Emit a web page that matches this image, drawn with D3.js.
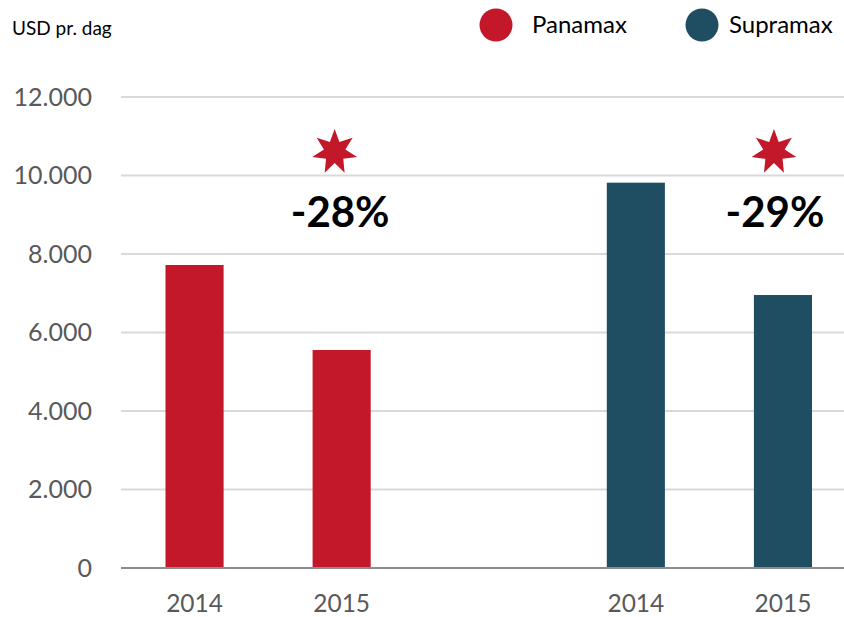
<!DOCTYPE html>
<html><head><meta charset="utf-8">
<script src="https://cdn.jsdelivr.net/npm/d3@7"></script>
<style>
html,body{margin:0;padding:0;background:#fff;}
svg{display:block;font-family:Lato, "Open Sans", sans-serif;}
</style></head>
<body>
<svg id="chart" width="844" height="617"></svg>
<script>
const years = ["2014", "2015"];
const seriesNames = ["Panamax", "Supramax"];
const panamax = [7720, 5554];
const supramax = [9817, 6955];
const changes = ["-28%", "-29%"];
const yTicks = [0, 2000, 4000, 6000, 8000, 10000, 12000];
const colors = ["#c3172a", "#1f4e63"];
const unitLabel = "USD pr. dag";

(function () {
const svg = d3.select("#chart");
const mLeft = 121, mRight = 844, mTop = 97, mBottom = 568;

const slots = ["P2014", "P2015", "gap", "S2014", "S2015"];
const x = d3.scaleBand().domain(slots).range([mLeft, 856.5]).paddingInner(0.605).paddingOuter(0.3025);
const y = d3.scaleLinear().domain([0, 12000]).range([mBottom, mTop]);

const fmt = v => d3.format(",")(v).replace(/,/g, ".");

// gridlines
svg.append("g").selectAll("line").data(yTicks.filter(d => d > 0)).join("line")
  .attr("x1", mLeft).attr("x2", mRight)
  .attr("y1", d => y(d)).attr("y2", d => y(d))
  .attr("stroke", "#d9d9d9").attr("stroke-width", 2);

// y labels
svg.append("g").selectAll("text").data(yTicks).join("text")
  .attr("x", 92).attr("y", d => y(d))
  .attr("dy", "0.35em").attr("text-anchor", "end")
  .attr("font-size", 25).attr("fill", "#595959")
  .text(d => fmt(d));

// bars
const bars = [];
years.forEach((yr, i) => bars.push({slot: "P" + yr, value: panamax[i], color: colors[0], year: yr}));
years.forEach((yr, i) => bars.push({slot: "S" + yr, value: supramax[i], color: colors[1], year: yr}));

svg.append("g").selectAll("rect").data(bars).join("rect")
  .attr("x", d => x(d.slot)).attr("width", x.bandwidth())
  .attr("y", d => y(d.value)).attr("height", d => y(0) - y(d.value))
  .attr("fill", d => d.color);

// baseline
svg.append("line").attr("x1", mLeft).attr("x2", mRight)
  .attr("y1", y(0)).attr("y2", y(0))
  .attr("stroke", "#8c8c8c").attr("stroke-width", 2);

// x labels
svg.append("g").selectAll("text").data(bars).join("text")
  .attr("x", d => x(d.slot) + x.bandwidth() / 2).attr("y", 612)
  .attr("text-anchor", "middle").attr("font-size", 24.5).attr("fill", "#595959")
  .text(d => d.year);

// change labels + stars
const heptagram = (r1, r2) => {
  const pts = [];
  for (let k = 0; k < 14; k++) {
    const a = k * Math.PI / 7;
    pts.push([a, k % 2 === 0 ? r1 : r2]);
  }
  return d3.lineRadial().curve(d3.curveLinearClosed)(pts);
};
const ann = [{slot: "P2015", label: changes[0], dx: -1.5, sx: -7},
             {slot: "S2015", label: changes[1], dx: -8, sx: -9}];
const ag = svg.append("g").selectAll("g").data(ann).join("g");
ag.append("path")
  .attr("transform", d => `translate(${x(d.slot) + x.bandwidth() / 2 + d.sx},152)`)
  .attr("d", heptagram(23, 11)).attr("fill", "#c3172a");
ag.append("text")
  .attr("x", d => x(d.slot) + x.bandwidth() / 2 + d.dx).attr("y", 227)
  .attr("text-anchor", "middle").attr("font-size", 42).attr("font-weight", "bold").attr("fill", "#000")
  .text(d => d.label);

// unit label
svg.append("text").attr("x", 12).attr("y", 35).attr("font-size", 19).attr("fill", "#000").text(unitLabel);

// legend
const legX = [496, 702];
const lg = svg.append("g").selectAll("g").data(seriesNames).join("g")
  .attr("transform", (d, i) => `translate(${legX[i]},25)`);
lg.append("circle").attr("r", 16.5).attr("fill", (d, i) => colors[i]);
lg.append("text").attr("x", (d, i) => i === 0 ? 36 : 27).attr("dy", "0.35em")
  .attr("font-size", 24).attr("fill", "#000").text(d => d);
})();
</script>
</body></html>
